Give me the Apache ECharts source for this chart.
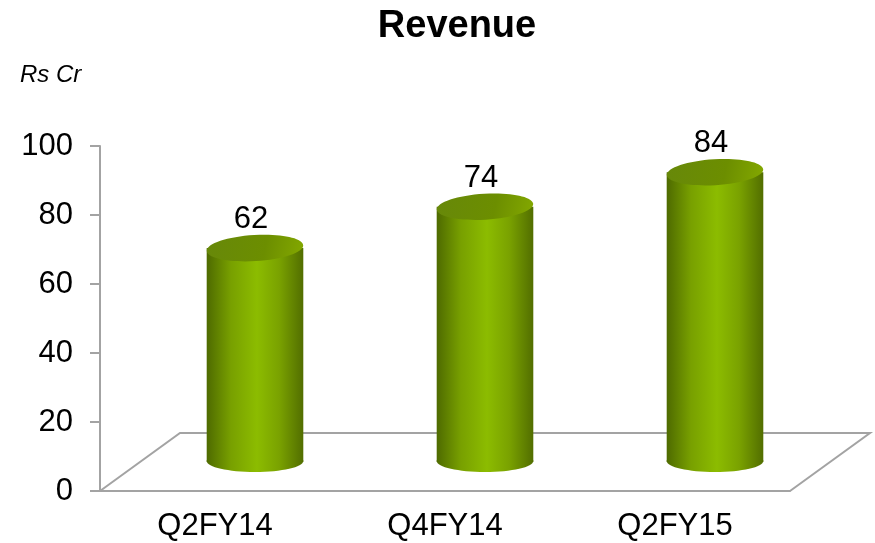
<!DOCTYPE html>
<html>
<head>
<meta charset="utf-8">
<script src="https://cdn.jsdelivr.net/npm/echarts@6/dist/echarts.min.js"></script>
<style>
  html, body { margin: 0; padding: 0; background: #fff; }
  #main { width: 875px; height: 543px; }
</style>
</head>
<body>
<div id="main"></div>
<script>
// data
var quarters = ['Q2FY14', 'Q4FY14', 'Q2FY15'];
var revenue = [62, 74, 84];
var yTicks = [0, 20, 40, 60, 80, 100];

// 3d look: depth of the floor in pixels
var depthX = 80, depthY = 58;
var grey = '#a3a3a3';
var font = '"Liberation Sans", Arial, sans-serif';

var chart = echarts.init(document.getElementById('main'));

var sideFill = new echarts.graphic.LinearGradient(0, 0, 1, 0, [
    {offset: 0, color: '#4e6a00'},
    {offset: 0.25, color: '#78a000'},
    {offset: 0.52, color: '#8cbc00'},
    {offset: 0.75, color: '#7aa200'},
    {offset: 1, color: '#526e00'}
]);
var topFill = new echarts.graphic.LinearGradient(0, 0, 1, 1, [
    {offset: 0, color: '#67880a'},
    {offset: 0.6, color: '#6c8e00'},
    {offset: 1, color: '#84a900'}
]);

option = {
    backgroundColor: '#fff',
    animation: false,
    title: {
        text: 'Revenue',
        left: 452,
        top: 3,
        textAlign: 'center',
        textStyle: {fontFamily: font, fontSize: 38, fontWeight: 'bold', color: '#000'}
    },
    graphic: [{
        type: 'text',
        left: 20,
        top: 63,
        style: {text: 'Rs Cr', font: 'italic 24px ' + font, fill: '#000'}
    }],
    grid: {left: 100, right: 85, top: 146, bottom: 52},
    xAxis: {
        type: 'category',
        data: quarters,
        axisLine: {lineStyle: {color: grey, width: 2}},
        axisTick: {length: 12, lineStyle: {color: grey, width: 2}},
        axisLabel: {fontFamily: font, fontSize: 31, color: '#000', margin: 20}
    },
    yAxis: {
        type: 'value',
        min: yTicks[0],
        max: yTicks[yTicks.length - 1],
        interval: 20,
        axisLine: {show: true, lineStyle: {color: grey, width: 2}},
        axisTick: {show: true, length: 10, lineStyle: {color: grey, width: 2}},
        splitLine: {show: false},
        axisLabel: {fontFamily: font, fontSize: 31, color: '#000', margin: 27}
    },
    series: [
        {
            // floor of the 3d plot
            type: 'custom',
            data: [[0, 0]],
            z: 1,
            renderItem: function (params, api) {
                var band = api.size([1, 0])[0];
                var first = api.coord([0, 0]);
                var last = api.coord([quarters.length - 1, 0]);
                var x0 = first[0] - band / 2, x1 = last[0] + band / 2, y0 = first[1];
                return {
                    type: 'polyline',
                    shape: {points: [[x0, y0], [x0 + depthX, y0 - depthY], [x1 + depthX, y0 - depthY], [x1, y0]]},
                    style: {stroke: grey, lineWidth: 2, fill: null}
                };
            }
        },
        {
            // cylinders
            type: 'custom',
            data: revenue.map(function (v, i) { return [i, v]; }),
            z: 2,
            renderItem: function (params, api) {
                var base = api.coord([api.value(0), 0]);
                var top = api.coord([api.value(0), api.value(1)]);
                var w = api.size([1, 0])[0] * 0.42;
                var cx = base[0] + depthX / 2;
                var by = base[1] - depthY / 2;
                var ty = top[1] - depthY / 2;
                var rx = w / 2, ry = 13;
                return {
                    type: 'group',
                    children: [
                        {type: 'ellipse', shape: {cx: cx, cy: by - 1, rx: rx, ry: 11}, style: {fill: sideFill}},
                        {type: 'rect', shape: {x: cx - rx, y: ty, width: w, height: by - ty}, style: {fill: sideFill}},
                        {type: 'ellipse', shape: {cx: cx, cy: ty, rx: rx, ry: ry}, rotation: 0.06, originX: cx, originY: ty,
                            style: {fill: topFill}},
                        {type: 'text', x: cx - 4, y: ty - ry,
                            style: {text: String(api.value(1)), font: '31px ' + font, fill: '#000',
                                textAlign: 'center', textVerticalAlign: 'bottom'}}
                    ]
                };
            }
        }
    ]
};
chart.setOption(option);
</script>
</body>
</html>
